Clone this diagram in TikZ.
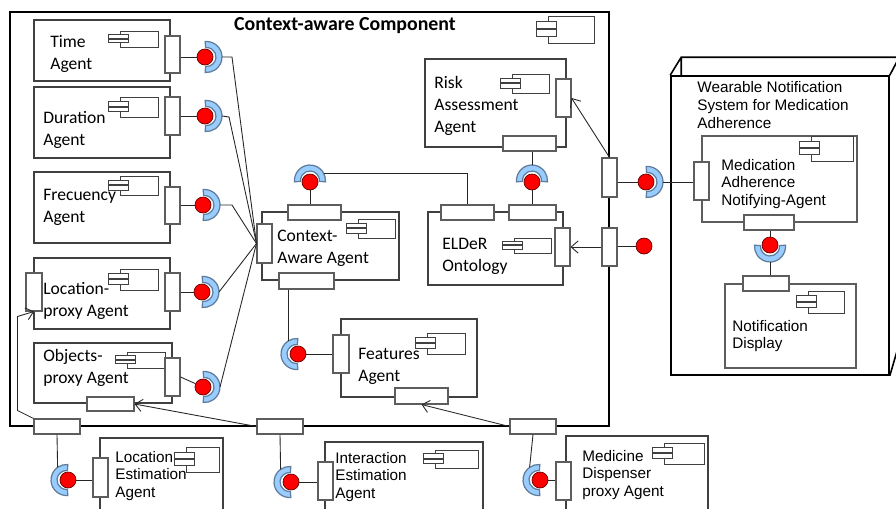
\documentclass[tikz,border=0pt]{standalone}
\usepackage{fontspec}
\newfontfamily\calibrifont{Carlito}
\newfontfamily\arialfont{Liberation Sans}
\usetikzlibrary{arrows.meta,fit}
\definecolor{sockblue}{RGB}{153,204,255}
\definecolor{sockedge}{RGB}{95,125,155}
\definecolor{linegray}{RGB}{64,64,64}
\tikzset{agentbox/.style={draw=linegray,line width=0.6pt,inner sep=0,fill=white},
    portbox/.style={draw=linegray!85,fill=white,line width=0.6pt,inner sep=0},
    ball/.style={circle,fill=red,draw=red!40!black,line width=0.4pt,inner sep=0,minimum size=0.32cm},
    cup/.style={fill=sockblue,draw=sockedge,line width=0.7pt},
    wire/.style={draw=black!85,line width=0.5pt},
    flow/.style={wire,-{Straight Barb[length=4pt,width=7pt]}},
    agentlabel/.style={font=\calibrifont\fontsize{10}{12.5}\selectfont,align=left,anchor=west,inner sep=0},
    devlabel/.style={font=\arialfont\fontsize{8.7}{10.1}\selectfont,align=left,anchor=west,inner sep=0},
    iconline/.style={draw=linegray,line width=0.55pt}}

% little component symbol: box with two tabs on its left side
\newcommand{\compicon}[4]{%
  \draw[iconline] (#1,#2) rectangle (#3,#4);
  \draw[iconline,fill=white] ({#1-12},{#2+0.22*(#4-#2)}) rectangle ({#1+8},{#2+0.46*(#4-#2)});
  \draw[iconline,fill=white] ({#1-12},{#2+0.5*(#4-#2)}) rectangle ({#1+8},{#2+0.74*(#4-#2)});
}
% ball with its socket; #4 is the side the socket sits on
\newcommand{\lollipop}[4]{%
  \filldraw[cup] (#2,#3) ++(#4:1.5) ++({#4-95}:15.5) arc[start angle={#4-95},end angle={#4+95},radius=15.5]
    -- ++({#4+275}:6) arc[start angle={#4+95},end angle={#4-95},radius=9.5] -- cycle;
  \node[ball] (#1) at (#2,#3) {};
  \path (#2,#3) ++(#4:17) coordinate (#1-cup);
}

\begin{document}
\begin{tikzpicture}[x=0.02cm,y=-0.02cm]
\clip (0,0) rectangle (896,508);
\fill[white] (0,0) rectangle (896,508);

% the context-aware component
\node[agentbox,draw=black,line width=1.1pt,fit={(10,12) (609,426)}] (ctx) {};
\node[font=\calibrifont\bfseries\fontsize{11.3}{13}\selectfont,inner sep=0] (ctxT) at (345,26) {Context-aware Component};
\compicon{548}{16}{594}{43}

% time agent
\node[agentbox,fit={(34,20) (170,81)}] (time) {};
\compicon{120}{31}{158}{47}
\node[agentlabel] (timeT) at (50,54) {Time\\Agent};
\node[portbox,fit={(165,36) (180,73)}] (timeP) {};
\lollipop{timeB}{205}{57}{0}
\draw[wire] (timeP.east |- timeB) -- (timeB);

% duration agent
\node[agentbox,fit={(34,87) (170,158)}] (dur) {};
\compicon{120}{97}{158}{117}
\node[agentlabel] (durT) at (43,130) {Duration\\Agent};
\node[portbox,fit={(165,97) (180,135)}] (durP) {};
\lollipop{durB}{205}{116}{0}
\draw[wire] (durP.east |- durB) -- (durB);

% frecuency agent
\node[agentbox,fit={(34,172) (170,243)}] (frq) {};
\compicon{120}{176}{158}{195}
\node[agentlabel] (frqT) at (43,207) {Frecuency\\Agent};
\node[portbox,fit={(165,187) (180,224)}] (frqP) {};
\lollipop{frqB}{203}{205}{0}
\draw[wire] (frqP.east |- frqB) -- (frqB);

% location-proxy agent
\node[agentbox,fit={(34,258) (170,329)}] (lp) {};
\compicon{120}{269}{158}{290}
\node[agentlabel] (lpT) at (43,301) {Location-\\proxy Agent};
\node[portbox,fit={(165,273) (180,311)}] (lpP) {};
\node[portbox,fit={(26,273) (42,311)}] (lpL) {};
\lollipop{lpB}{202}{292}{0}
\draw[wire] (lpP.east |- lpB) -- (lpB);

% objects-proxy agent
\node[agentbox,fit={(34,343) (172,403)}] (obj) {};
\compicon{127}{352}{165}{368}
\node[agentlabel] (objT) at (43,368) {Objects-\\proxy Agent};
\node[portbox,fit={(165,358) (180,396)}] (objP) {};
\node[portbox,fit={(87,397) (134,411)}] (objD) {};
\lollipop{objB}{203}{387}{0}
\draw[wire] (objP.east) -- (objB);

% context-aware agent
\node[agentbox,fit={(262,212) (399,280)}] (ca) {};
\compicon{358}{219}{395}{238}
\node[agentlabel] (caT0) at (277,248) {Context-\\Aware Agent};
\node[portbox,fit={(288,205) (341,220)}] (caT) {};
\node[portbox,fit={(257,224) (272,263)}] (caL) {};
\node[portbox,fit={(279,273) (334,289)}] (caD) {};
\lollipop{caB}{310}{182}{270}
\draw[wire] (caB) -- (caB |- caT.north);

% all context sources feed the context-aware agent
\draw[wire] (timeB-cup) -- ++(10,0) -- (caL.west);
\draw[wire] (durB-cup) -- ++(7,1) -- (caL.west);
\draw[wire] (frqB-cup) -- ++(12,0) -- (caL.west);
\draw[wire] (lpB-cup) -- (caL.west);
\draw[wire] (objB-cup) -- (caL.west);

% risk assessment agent
\node[agentbox,fit={(425,59) (566,147)}] (rk) {};
\compicon{512}{74}{549}{93}
\node[agentlabel] (rkT) at (434,106) {Risk\\Assessment\\Agent};
\node[portbox,fit={(556,79) (571,117)}] (rkR) {};
\node[portbox,fit={(503,136) (556,151)}] (rkD) {};

% ELDeR ontology
\node[agentbox,fit={(428,212) (563,285)}] (el) {};
\compicon{514}{238}{551}{253}
\node[agentlabel] (elT) at (442,256) {ELDeR\\Ontology};
\node[portbox,fit={(441,205) (494,220)}] (elT1) {};
\node[portbox,fit={(509,205) (556,220)}] (elT2) {};
\node[portbox,fit={(555,228) (570,266)}] (elR) {};
\lollipop{rkB}{532}{182}{270}
\draw[wire] (rkD.south -| rkB) -- (rkB-cup);
\draw[wire] (rkB) -- (rkB |- elT2.north);
\path (caB.center) ++(270:1.5) ++(-29:15.5) coordinate (caCupR);
\draw[wire] (caCupR) -| (elT1.north);

% features agent
\node[agentbox,fit={(341,319) (477,397)}] (feat) {};
\compicon{427}{333}{465}{354}
\node[agentlabel] (featT) at (358,366) {Features\\Agent};
\node[portbox,fit={(333,335) (349,373)}] (featP) {};
\node[portbox,fit={(395,388) (448,404)}] (featD) {};
\lollipop{featB}{298}{354}{180}
\draw[wire] (featB) -- (featP);
\path (featB.center) ++(180:1.5) ++(238:15.5) coordinate (featCupT);
\draw[wire] (caD.south -| featCupT) -- (featCupT);

% ports on the component border
\node[portbox,fit={(602,158) (617,197)}] (ctxR1) {};
\node[portbox,fit={(602,228) (617,266)}] (ctxR2) {};
\node[portbox,fit={(34,419) (80,434)}] (ctxB1) {};
\node[portbox,fit={(257,419) (303,434)}] (ctxB2) {};
\node[portbox,fit={(510,419) (556,434)}] (ctxB3) {};
\draw[flow] (ctxR1.north) -- (rkR.east);
\draw[flow] (ctxR2.west |- elR) -- (elR.east);
\draw[flow] (ctxB1.north west) -- ++(-16,-8) -- ++(0,-94) -- (lpL.south);
\draw[flow] (ctxB2.west) -- (objD.east);
\draw[flow] (ctxB3.west) -- (featD.south);

% wearable notification system (device node)
\node[agentbox,draw=black,line width=0.9pt,fit={(671,76) (889,375)}] (wns) {};
\draw[black,line width=0.9pt] (wns.north west) -- ++(11,-18) -- ++(218,0) -- (wns.north east)
    (wns.north west) ++(11,-18) -- ++(0,18)
    (wns.north east) ++(11,-18) -- ++(0,281) -- (wns.south east);
\node[devlabel] (wnsT) at (697,105) {Wearable Notification\\System for Medication\\Adherence};

\node[agentbox,draw=linegray!85,fit={(702,136) (857,222)}] (med) {};
\compicon{811}{136}{853}{161}
\node[devlabel] (medT) at (721,184) {Medication\\Adherence\\Notifying-Agent};
\node[portbox,fit={(694,162) (709,200)}] (medP) {};
\node[portbox,fit={(744,215) (794,230)}] (medD) {};

\node[agentbox,draw=linegray!85,fit={(725,284) (856,368)}] (nd) {};
\compicon{808}{291}{844}{313}
\node[devlabel] (ndT0) at (732,336) {Notification\\Display};
\node[portbox,fit={(743,276) (789,291)}] (ndT) {};
\lollipop{ndB}{770}{245}{90}
\draw[wire] (medD.south -| ndB) -- (ndB);
\draw[wire] (ndB-cup) -- (ndB-cup |- ndT.north);

\lollipop{medB}{646}{182}{0}
\draw[wire] (ctxR1.east |- medB) -- (medB);
\draw[wire] (medB-cup) -- (medP.west |- medB-cup);
\node[ball] (eldB) at (644,246) {};
\draw[wire] (ctxR2.east |- eldB) -- (eldB);

% location estimation agent
\node[agentbox,fit={(100,438) (223,530)}] (le) {};
\compicon{186}{447}{219}{472}
\node[devlabel] (leT) at (115,476) {Location\\Estimation\\Agent};
\node[portbox,fit={(93,458) (108,497)}] (leP) {};
\lollipop{leB}{68}{480}{180}
\draw[wire] (leB) -- (leP.west |- leB);
\path (leB.center) ++(180:1.5) ++(235:15.5) coordinate (leCupT);
\draw[wire] (ctxB1.south) -- (leCupT);

% interaction estimation agent
\node[agentbox,fit={(325,442) (483,530)}] (ie) {};
\compicon{435}{450}{478}{468}
\node[devlabel] (ieT) at (335,477) {Interaction\\Estimation\\Agent};
\node[portbox,fit={(318,462) (333,500)}] (ieP) {};
\lollipop{ieB}{291}{482}{180}
\draw[wire] (ieB) -- (ieP.west |- ieB);
\path (ieB.center) ++(180:1.5) ++(235:15.5) coordinate (ieCupT);
\draw[wire] (ctxB2.south) -- (ieCupT);

% medicine dispenser proxy agent
\node[agentbox,fit={(566,436) (708,530)}] (md) {};
\compicon{664}{443}{704}{464}
\node[devlabel] (mdT) at (582,475) {Medicine\\Dispenser\\proxy Agent};
\node[portbox,fit={(556,462) (571,500)}] (mdP) {};
\lollipop{mdB}{540}{480}{180}
\draw[wire] (mdB) -- (mdP.west |- mdB);
\path (mdB.center) ++(180:1.5) ++(235:15.5) coordinate (mdCupT);
\draw[wire] (ctxB3.south) -- (mdCupT);

\end{tikzpicture}
\end{document}
